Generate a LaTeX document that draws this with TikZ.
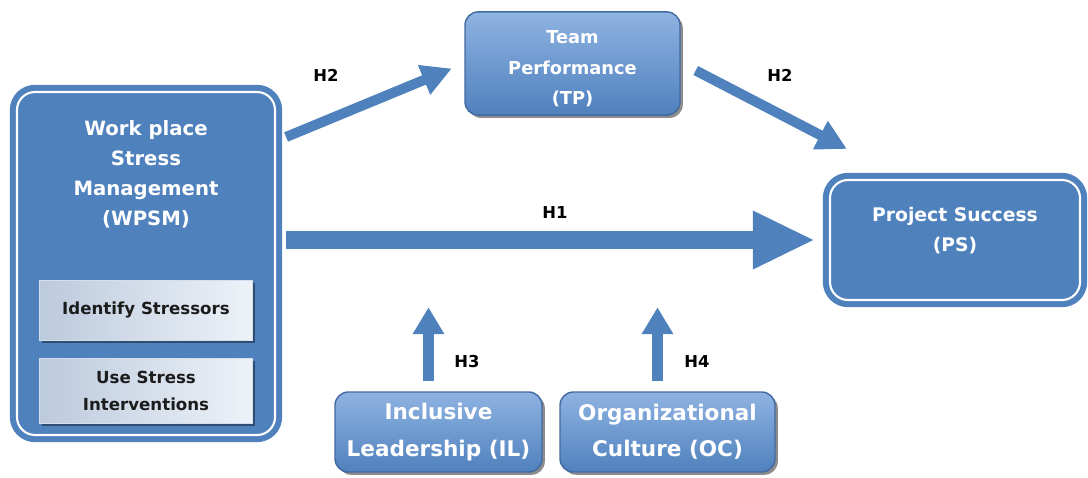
\documentclass[tikz,border=0pt]{standalone}
\usepackage{fontspec}
\setmainfont{DejaVu Sans}
\usetikzlibrary{arrows.meta,calc,shadows}
\definecolor{boxblue}{RGB}{79,129,189}
\definecolor{lightblue}{RGB}{143,179,226}
\definecolor{edgeblue}{RGB}{66,106,160}
\definecolor{paleblue}{RGB}{238,242,248}
\definecolor{greyblue}{RGB}{188,202,221}
\definecolor{darktext}{RGB}{28,28,28}

\begin{document}
\begin{tikzpicture}[x=0.015cm,y=-0.015cm,
    font=\fontsize{8}{12.8}\selectfont\bfseries,
    mainbox/.style={draw=boxblue,fill=boxblue,line width=2.6pt,double=white,double distance=0.9pt,
        rounded corners=0.27cm,text=white,align=center},
    gradbox/.style={draw=edgeblue,line width=0.6pt,top color=lightblue,bottom color=boxblue,
        rounded corners=0.2cm,text=white,align=center,
        drop shadow={shadow xshift=1.2pt,shadow yshift=-1.2pt,opacity=0.45,fill=black}},
    subbox/.style={draw=white!75!boxblue,line width=0.4pt,left color=greyblue,right color=paleblue,
        minimum width=3.195cm,text=darktext,align=center,font=\fontsize{7.1}{11.5}\selectfont\bfseries,
        drop shadow={shadow xshift=1pt,shadow yshift=-1.2pt,opacity=0.4,fill=black}},
    hyp/.style={draw=boxblue,line width=4.3pt,-{Triangle[width=12.8pt,length=12.8pt]}},
    hlabel/.style={font=\fontsize{7}{8}\selectfont\bfseries,text=black}]
    \useasboundingbox (0,0) rectangle (1088,477);

    \node[mainbox,minimum width=3.87cm,minimum height=5.145cm] (wpsm) at (146,263.5) {};
    \node[text=white,align=center,font=\fontsize{8.4}{12.8}\selectfont\bfseries] (wpsmname) at (146,174)
        {Work place\\Stress\\Management\\(WPSM)};
    \node[subbox,minimum height=0.9cm] (stressors) at (146,310) {Identify Stressors};
    \node[subbox,minimum height=0.975cm] (interventions) at (146,391) {Use Stress\\Interventions};

    \node[gradbox,minimum width=3.225cm,minimum height=1.545cm,font=\fontsize{7.6}{13.2}\selectfont\bfseries]
        (tp) at (572.5,63.5) {\rule{0pt}{10pt}Team\\Performance\\(TP)};
    \node[mainbox,minimum width=3.75cm,minimum height=1.8cm] (ps) at (955,240)
        {Project Success\\(PS)\rule[-9pt]{0pt}{9pt}};
    \node[gradbox,minimum width=3.105cm,minimum height=1.2cm,font=\fontsize{9.2}{15.4}\selectfont\bfseries]
        (il) at (438.5,432) {Inclusive\\Leadership (IL)};
    \node[gradbox,minimum width=3.225cm,minimum height=1.2cm,font=\fontsize{9.2}{15.4}\selectfont\bfseries]
        (oc) at (667.5,432) {Organizational\\Culture (OC)};

    % hypotheses
    \draw[hyp] ($(wpsm.east)+(8,-126.5)$) -- ($(tp.west)+(-12.5,5)$);
    \draw[hyp] ($(tp.east)+(15,7)$) -- ($(ps.north west)+(20,-28)$);
    \draw[hyp,line width=8.1pt,-{Triangle[width=23pt,length=26.5pt]},shorten <=3.4pt,shorten >=5.1pt]
        (wpsm.east |- ps.west) -- (ps.west);
    \draw[hyp,-{Triangle[width=12.8pt,length=11.5pt]}] ($(il.north)+(-10,-10)$) -- ++(0,-74);
    \draw[hyp,-{Triangle[width=12.8pt,length=11.5pt]}] ($(oc.north)+(-10,-10)$) -- ++(0,-74);

    \node[hlabel] (h2a) at (326,75) {H2};
    \node[hlabel] (h2b) at (780,75) {H2};
    \node[hlabel] (h1) at (555,213) {H1};
    \node[hlabel] (h3) at (467,362) {H3};
    \node[hlabel] (h4) at (697,362) {H4};
\end{tikzpicture}
\end{document}
